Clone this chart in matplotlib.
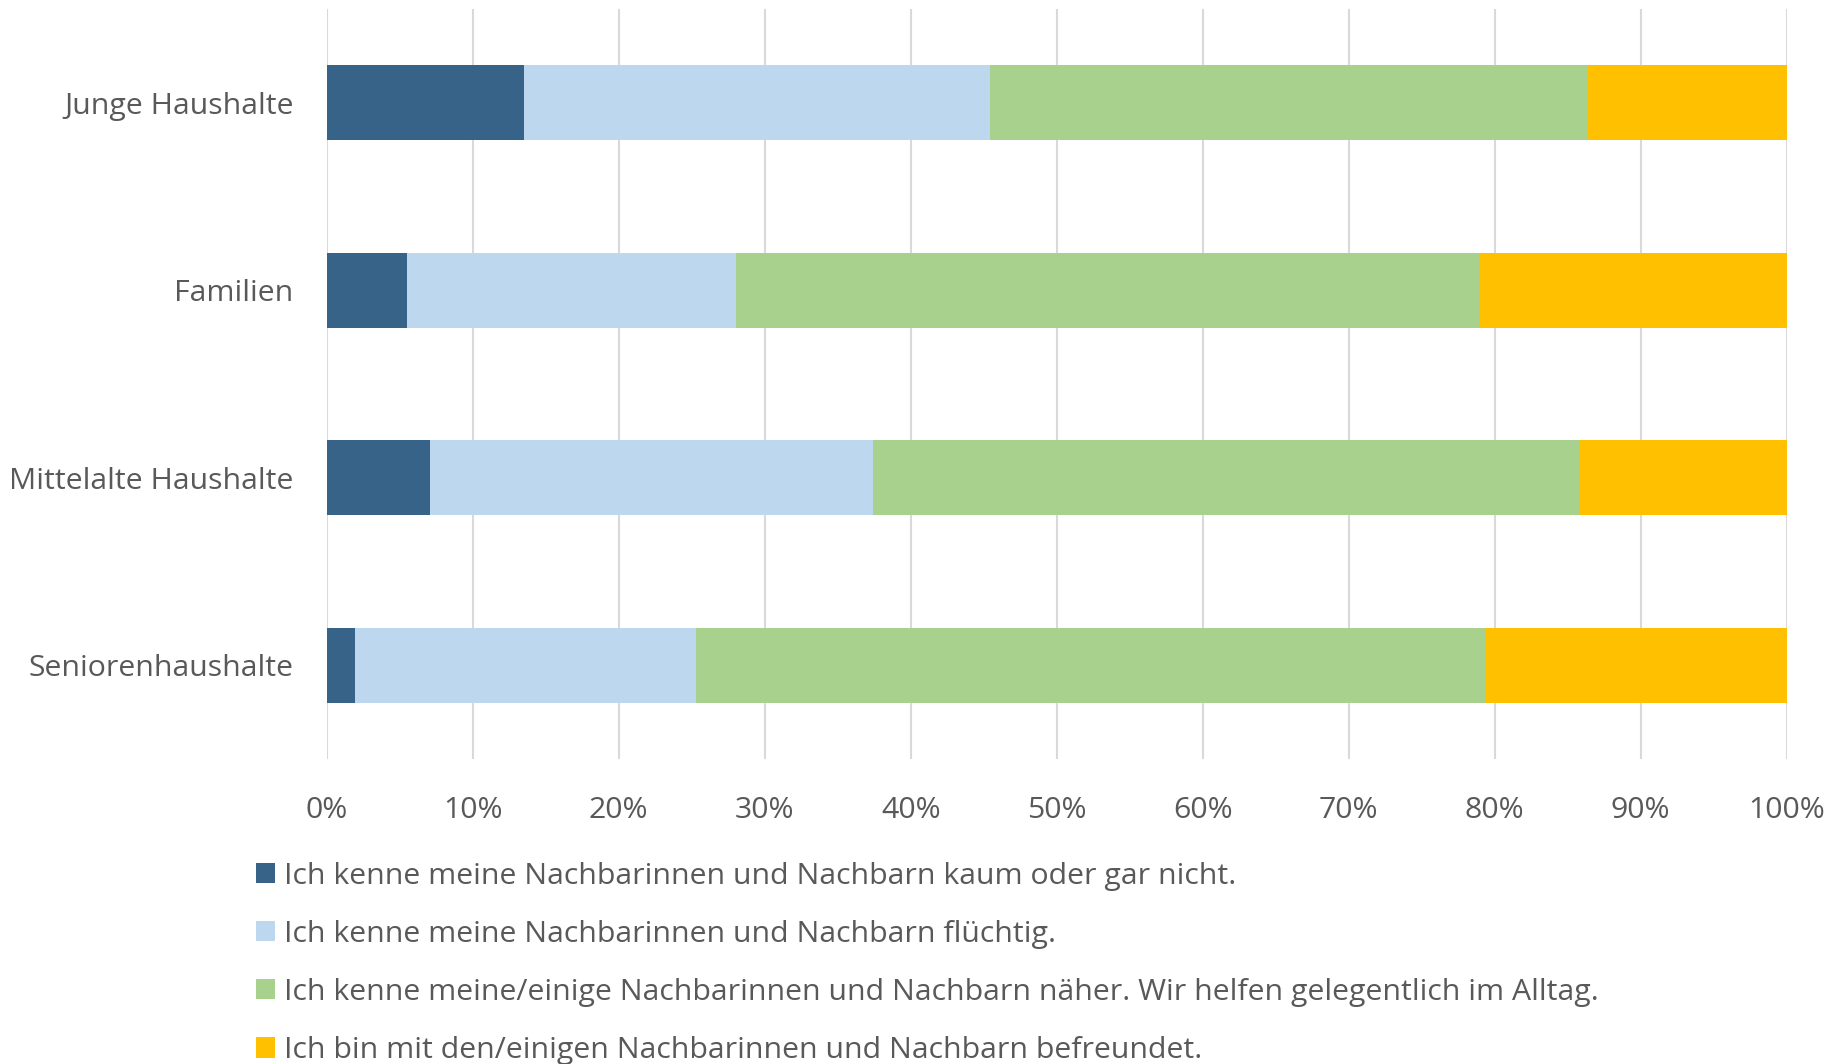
import numpy as np
import matplotlib
matplotlib.use("Agg")
import matplotlib.pyplot as plt
from matplotlib.ticker import PercentFormatter

plt.rcParams['font.family'] = ['Open Sans', 'DejaVu Sans']

# data (percent shares per household type)
groups = ["Junge Haushalte", "Familien", "Mittelalte Haushalte", "Seniorenhaushalte"]
kaum      = [13.5, 5.5, 7.1, 1.9]
fluechtig = [31.9, 22.5, 30.3, 23.4]
naeher    = [40.9, 50.9, 48.4, 54.1]
freunde   = [13.7, 21.1, 14.2, 20.6]

labels = [
    "Ich kenne meine Nachbarinnen und Nachbarn kaum oder gar nicht.",
    "Ich kenne meine Nachbarinnen und Nachbarn flüchtig.",
    "Ich kenne meine/einige Nachbarinnen und Nachbarn näher. Wir helfen gelegentlich im Alltag.",
    "Ich bin mit den/einigen Nachbarinnen und Nachbarn befreundet.",
]
colors = ["#376389", "#BDD7EE", "#A9D18E", "#FFC000"]
txt = "#595959"
fs = 21.8

fig = plt.figure(figsize=(18.39, 10.64), dpi=100)
ax = fig.add_axes([0.1777, 0.2867, 0.9715 - 0.1777, 0.9915 - 0.2867])

y = np.arange(len(groups))
left = np.zeros(len(groups))
for vals, lab, col in zip([kaum, fluechtig, naeher, freunde], labels, colors):
    ax.barh(y, vals, left=left, height=0.4, color=col, label=lab, linewidth=0, zorder=3)
    left += np.array(vals)

ax.set_xlim(0, 100)
ax.set_ylim(3.5, -0.5)
ax.set_yticks(y)
ax.set_yticklabels(groups)
ax.set_xticks(np.arange(0, 101, 10))
ax.xaxis.set_major_formatter(PercentFormatter(100, decimals=0))
ax.tick_params(axis='both', length=0, labelsize=fs, colors=txt)
ax.tick_params(axis='x', pad=27)
ax.tick_params(axis='y', pad=24)
ax.grid(axis='x', color="#d9d9d9", linewidth=1.5, zorder=0)
for s in ax.spines.values():
    s.set_visible(False)

fig.legend(loc='upper left', bbox_to_anchor=(0.139, 0.19), frameon=False,
           fontsize=fs, labelcolor=txt, handlelength=0.65, handleheight=0.65,
           handletextpad=0.3, labelspacing=0.96, borderpad=0, borderaxespad=0)

fig.savefig("out.png", dpi=100)
plt.close(fig)
